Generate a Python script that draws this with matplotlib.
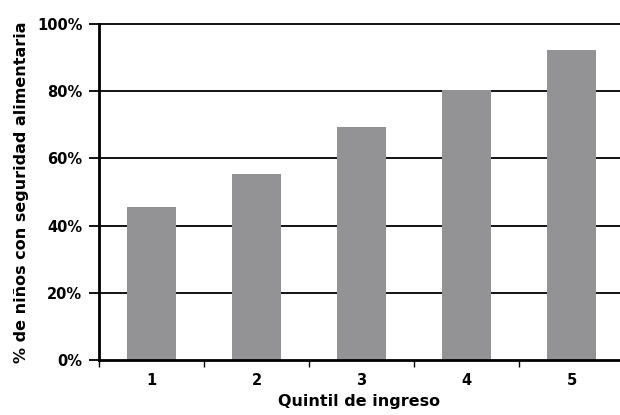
import matplotlib.pyplot as plt
import numpy as np

# Datos
quintiles = ['1', '2', '3', '4', '5']
porcentajes = [45.5, 55.5, 69.4, 80.4, 92.3]
yticks = [0, 20, 40, 60, 80, 100]
ytick_labels = ['0%', '20%', '40%', '60%', '80%', '100%']

fig = plt.figure(figsize=(6.2, 4.15), dpi=100, facecolor='white')
ax = fig.add_axes([0.1597, 0.1337, 0.8403, 0.8073])

x = np.arange(1, len(quintiles) + 1)

# Líneas horizontales de referencia
for y in yticks[1:]:
    ax.axhline(y, color='black', lw=1.3, zorder=1, clip_on=False)

ax.bar(x, porcentajes, width=0.47, color='#939396', zorder=2)

ax.set_xlim(0.5, 5.462)
ax.set_ylim(0, 100)

# Ticks del eje x entre categorías
ax.set_xticks([0.5, 1.5, 2.5, 3.5, 4.5])
ax.set_xticklabels([])
ax.set_xticks(x, minor=True)
ax.set_xticklabels(quintiles, minor=True, fontsize=10.5, fontweight='bold')
ax.tick_params(axis='x', which='minor', length=0, pad=10)
ax.tick_params(axis='x', which='major', length=5, width=1, direction='out')

ax.set_yticks(yticks)
ax.set_yticklabels(ytick_labels, fontsize=10.5, fontweight='bold')
ax.tick_params(axis='y', length=7, width=1.3, direction='out', pad=5)

for s in ['top', 'right']:
    ax.spines[s].set_visible(False)
ax.spines['left'].set_linewidth(2)
ax.spines['bottom'].set_linewidth(2)

ax.set_xlabel('Quintil de ingreso', fontsize=11.5, fontweight='bold', labelpad=4)
ax.set_ylabel('% de niños con seguridad alimentaria', fontsize=11.5,
              fontweight='bold', labelpad=6)

plt.savefig('out.png', dpi=100, facecolor='white')
